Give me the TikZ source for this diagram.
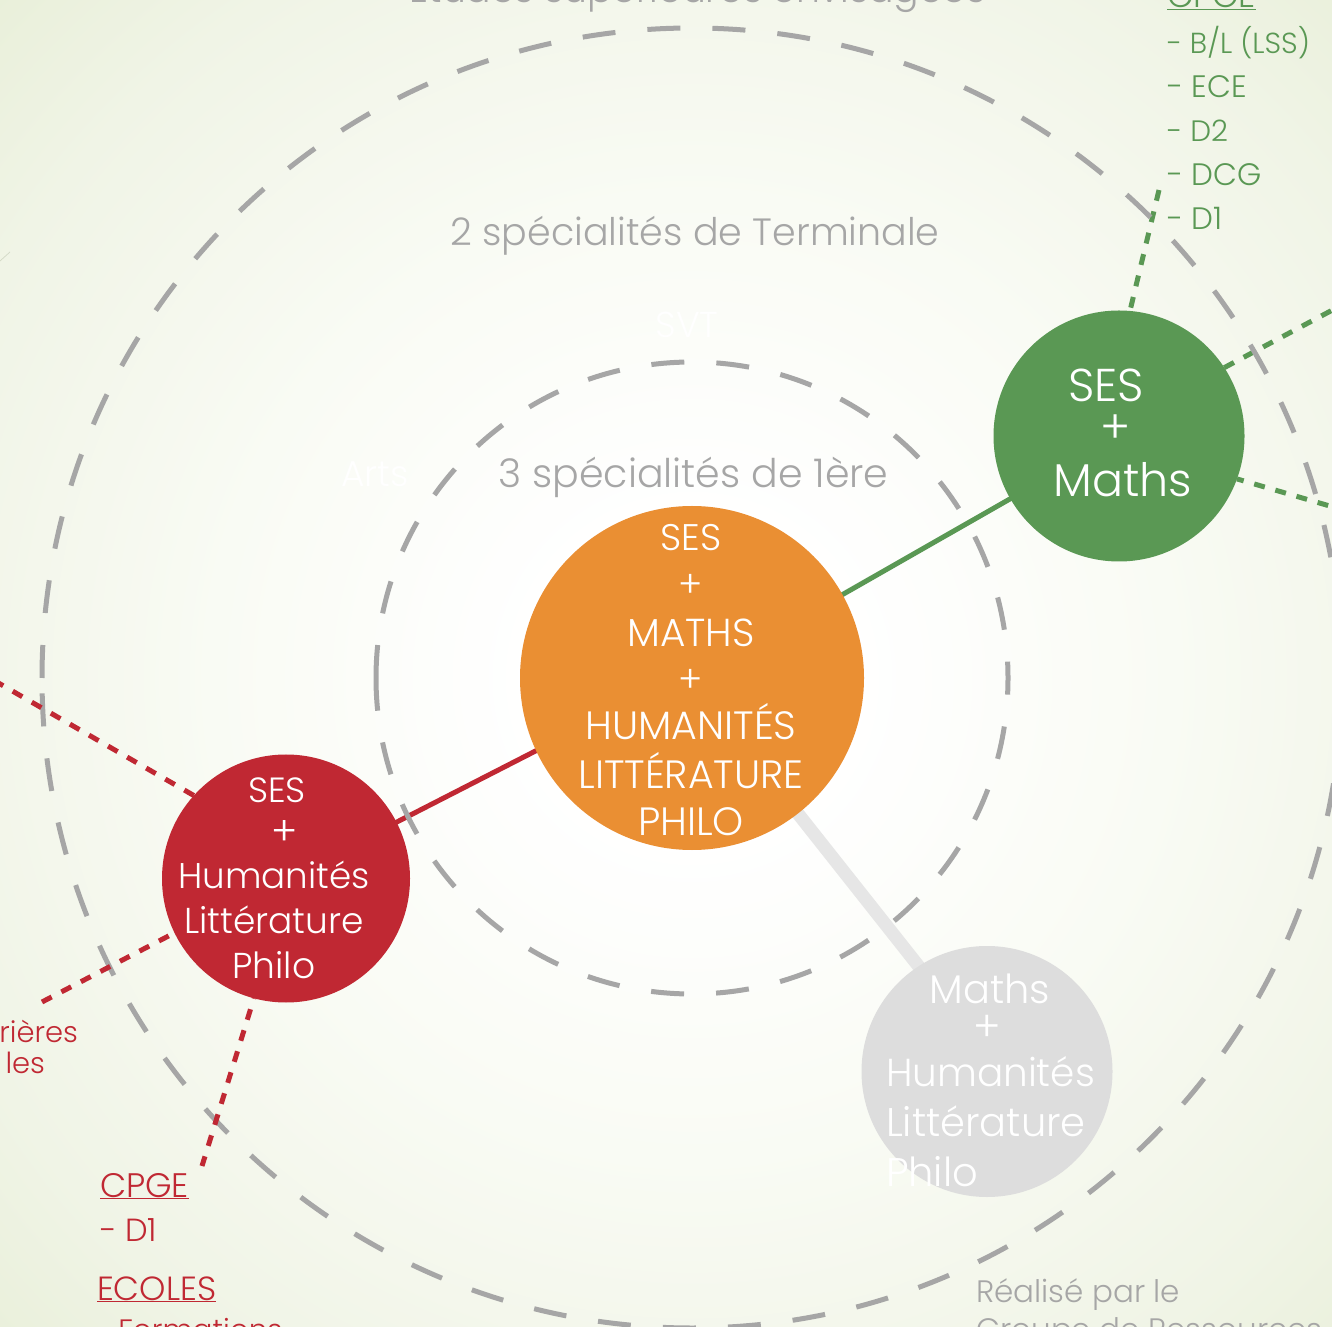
\documentclass[tikz,border=0pt]{standalone}
\usepackage{fontspec}
\usetikzlibrary{calc}
\setmainfont{Poppins Light}
\definecolor{bgouter}{HTML}{E8EFD8}
\definecolor{bgmida}{HTML}{F9FBF4}
\definecolor{bgmidb}{HTML}{F0F4E6}
\definecolor{ringgray}{HTML}{A6A6A6}
\definecolor{orangec}{HTML}{EA8F33}
\definecolor{greenc}{HTML}{5A9854}
\definecolor{redc}{HTML}{C02833}
\definecolor{grayc}{HTML}{DDDDDD}
\definecolor{linkgray}{HTML}{E6E6E6}
\pgfdeclareradialshading{bgrad}{\pgfpoint{0bp}{0bp}}{color(0bp)=(white); color(4bp)=(white); color(12bp)=(bgmida); color(20bp)=(bgmidb); color(25bp)=(bgouter); color(50bp)=(bgouter)}
\pgfdeclarelayer{under}
\pgfsetlayers{under,main}
\newcommand{\fsz}[1]{\fontsize{#1}{#1}\selectfont}
\tikzset{
  disc/.style={circle,inner sep=0pt,outer sep=0pt,draw=none},
  lab/.style={inner sep=0pt,outer sep=0pt,anchor=base},
  labw/.style={inner sep=0pt,outer sep=0pt,anchor=base west},
  labe/.style={inner sep=0pt,outer sep=0pt,anchor=base east},
  ringline/.style={draw=ringgray,line width=5pt,dash pattern=on 33pt off 32.1pt},
  solidlink/.style={line width=5pt},
  dotlink/.style={line width=5pt,dash pattern=on 11pt off 11pt},
}
\begin{document}
\begin{tikzpicture}[x=1pt,y=1pt]
\useasboundingbox (0,0) rectangle (1332,1326);
\coordinate (ctr) at (692,648);
\node[disc,fill=orangec,minimum size=344pt] (orange) at (ctr) {};
\node[disc,fill=greenc,minimum size=251pt] (green) at (1119,890) {};
\node[disc,fill=redc,minimum size=248pt] (red) at (286,447.5) {};
\node[disc,fill=grayc,minimum size=251pt] (gray) at (987,254.5) {};
\coordinate (g1) at (1159,1136);
\coordinate (g2) at (1340,1020);
\coordinate (g3) at (1340,817);
\coordinate (r1) at (-5,645);
\coordinate (r2) at (42,324);
\coordinate (r3) at (202,160);
\coordinate (fa) at (0,1065);
\coordinate (fb) at (10,1074);
\begin{pgfonlayer}{under}
\shade[shading=bgrad] (ctr) circle (1000);
\draw[bgouter!80!gray,line width=.7pt] (fa) -- (fb);
\draw[linkgray,line width=13pt,shorten <=-8pt,shorten >=-8pt] (orange.-52.2) -- (gray.123.7);
\draw[redc,solidlink,shorten <=-2pt,shorten >=-2pt] (orange.205.2) -- (red.27.4);
\draw[greenc,solidlink,shorten <=-2pt,shorten >=-2pt] (orange.29.1) -- (green.210.1);
\draw[greenc,dotlink,dash phase=18.6pt] (green.85) -- (g1);
\draw[greenc,dotlink] (green.33) -- (g2);
\draw[greenc,dotlink,dash phase=4pt] (green.-20.9) -- (g3);
\draw[ringline] ($(ctr)+(180:316)$) arc[start angle=180,end angle=-180,radius=316];
\draw[ringline] ($(ctr)+(180:650)$) arc[start angle=180,end angle=-180,radius=650];
\draw[redc,dotlink] (red.138.3) -- (r1);
\draw[redc,dotlink,dash phase=15.4pt] (red.206.4) -- (r2);
\draw[redc,dotlink,dash phase=10.5pt] (red.-105.5) -- (r3);
\end{pgfonlayer}
% grey headings
\node[lab,font=\fsz{37.7},ringgray] (h0) at (697.5,1323) {Etudes supérieures envisagées};
\node[lab,font=\fsz{38},ringgray] (h1) at (695,1080) {2 spécialités de Terminale};
\node[lab,font=\fsz{39.5},ringgray] (h2) at (693.5,838) {3 spécialités de 1ère};
\node[lab,font=\fsz{36},white] (svt) at (687,988) {SVT};
\node[lab,font=\fsz{36},white] (arts) at (375,839) {Arts};
% orange
\node[lab,font=\fsz{37},white] (o1) at (691,775) {SES};
\node[lab,font=\fsz{37},white] (o2) at (691,728) {+};
\node[lab,font=\fsz{39},white] (o3) at (691,679) {MATHS};
\node[lab,font=\fsz{37},white] (o4) at (691,633) {+};
\node[lab,font=\fsz{39.5},white] (o5) at (691,586) {HUMANITÉS};
\node[lab,font=\fsz{39.5},white] (o6) at (691,537) {LITTÉRATURE};
\node[lab,font=\fsz{39.5},white] (o7) at (691,490) {PHILO};
% green
\node[lab,font=\fsz{46},white] (g4) at (1106,924) {SES};
\node[lab,font=\fsz{46},white] (g5) at (1116,882) {+};
\node[lab,font=\fsz{46},white] (g6) at (1123,829) {Maths};
% red
\node[lab,font=\fsz{35},white] (r4) at (277,523) {SES};
\node[lab,font=\fsz{40},white] (r5) at (285,481) {+};
\node[lab,font=\fsz{35.7},white] (r6) at (274,438) {Humanités};
\node[lab,font=\fsz{36},white] (r7) at (274,393) {Littérature};
\node[lab,font=\fsz{36},white] (r8) at (274,348) {Philo};
% grey disc
\node[lab,font=\fsz{40},white] (y1) at (990,323) {Maths};
\node[lab,font=\fsz{42},white] (y2) at (987,285) {+};
\node[labw,font=\fsz{39},white] (y3) at (886,240) {Humanités};
\node[labw,font=\fsz{40},white] (y4) at (886,190) {Littérature};
\node[labw,font=\fsz{40},white] (y5) at (886,140) {Philo};
% green list
\node[labw,font=\fsz{34},greenc] (l0) at (1167,1318) {\underline{CPGE}};
\node[labw,font=\fsz{29},greenc] (l1) at (1167,1272) {- B/L (LSS)};
\node[labw,font=\fsz{31},greenc] (l2) at (1167,1228) {- ECE};
\node[labw,font=\fsz{29.5},greenc] (l3) at (1167,1184) {- D2};
\node[labw,font=\fsz{31},greenc] (l4) at (1167,1140) {- DCG};
\node[labw,font=\fsz{31},greenc] (l5) at (1167,1096) {- D1};
% red list
\node[labw,font=\fsz{34},redc] (c0) at (100,129) {\underline{CPGE}};
\node[labw,font=\fsz{32},redc] (c1) at (100,85) {- D1};
\node[labw,font=\fsz{33.5},redc] (c2) at (97,26) {\underline{ECOLES}};
\node[labw,font=\fsz{29.5},redc] (c3) at (95,-14) {- Formations};
\node[labe,font=\fsz{29},redc] (c4) at (78,283.5) {rières};
\node[labe,font=\fsz{29},redc] (c5) at (45,253) {les};
% credit
\node[labw,font=\fsz{31},ringgray] (n1) at (976,24) {Réalisé par le};
\node[labw,font=\fsz{31},ringgray] (n2) at (976,-14) {Groupe de Ressources};
\end{tikzpicture}
\end{document}
